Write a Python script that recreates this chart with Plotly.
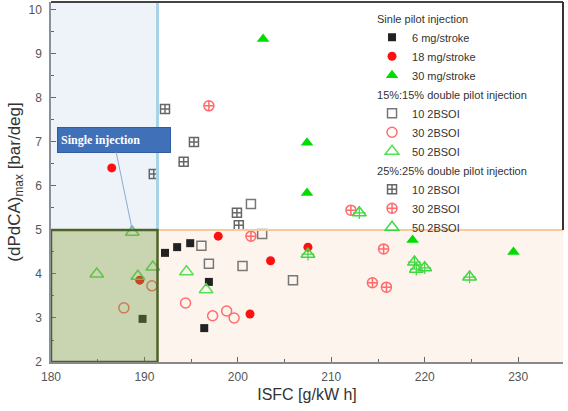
import plotly.graph_objects as go

# ---- data (ISFC [g/kW h], (dPdCA)max [bar/deg]) ----
sp6_x = [192.2, 193.5, 194.9, 196.9, 196.4, 189.8]
sp6_y = [4.48, 4.61, 4.70, 3.82, 2.77, 2.98]
sp18_x = [186.5, 189.5, 197.9, 203.5, 201.3, 207.5]
sp18_y = [6.41, 3.86, 4.86, 4.30, 3.09, 4.61]
sp30_x = [202.7, 207.4, 207.4, 218.7, 229.5]
sp30_y = [9.34, 6.98, 5.84, 4.77, 4.50]

d15_10_x = [196.1, 196.9, 200.5, 202.6, 201.4, 205.9]
d15_10_y = [4.64, 4.23, 4.18, 4.91, 5.59, 3.86]
d15_30_x = [187.8, 190.8, 194.4, 197.3, 198.8, 199.6]
d15_30_y = [3.23, 3.73, 3.34, 3.05, 3.16, 3.00]
d15_50_x = [184.9, 188.7, 189.3, 190.9, 194.5, 196.6]
d15_50_y = [4.00, 4.95, 3.95, 4.16, 4.05, 3.64]

d25_10_x = [192.2, 195.3, 194.2, 191.0, 199.9, 200.1]
d25_10_y = [7.75, 7.00, 6.55, 6.27, 5.39, 5.11]
d25_30_x = [196.9, 201.4, 212.1, 215.6, 214.4, 215.9]
d25_30_y = [7.82, 4.86, 5.45, 4.57, 3.80, 3.70]
d25_50_x = [213.0, 207.5, 218.9, 219.1, 220.0, 224.8]
d25_50_y = [5.39, 4.45, 4.27, 4.11, 4.14, 3.93]

x_range = [180, 234.8]
y_range = [2, 10.18]
x_split = 191.4
y_split = 5.0

fig = go.Figure()

def add(x, y, name, symbol, color, size, group, gtitle=None, lw=1.5, show=True):
    kw = {}
    if gtitle:
        kw["legendgrouptitle"] = dict(text=gtitle, font=dict(size=11, color="#333"))
    fig.add_trace(go.Scatter(
        x=x, y=y, mode="markers", name=name, legendgroup=group, showlegend=show,
        marker=dict(symbol=symbol, color=color, size=size,
                    line=dict(color=color, width=lw)), **kw))

add(sp6_x, sp6_y, "6 mg/stroke", "square", "#222222", 8, "g1", "Sinle pilot injection", lw=0)
add(sp18_x, sp18_y, "18 mg/stroke", "circle", "#ff1010", 9, "g1", lw=0)
add(sp30_x, sp30_y, "30 mg/stroke", "triangle-up", "#00dd00", 11, "g1", lw=0)

add(d15_10_x, d15_10_y, "10 2BSOI", "square-open", "#777777", 9, "g2", "15%:15% double pilot injection")
add(d15_30_x, d15_30_y, "30 2BSOI", "circle-open", "#ff6d6d", 10, "g2")
add(d15_50_x, d15_50_y, "50 2BSOI", "triangle-up-open", "#55e055", 12, "g2")

add(d25_10_x, d25_10_y, "10 2BSOI", "square-cross-open", "#666666", 9, "g3", "25%:25% double pilot injection")
add(d25_30_x, d25_30_y, "30 2BSOI", "circle-cross-open", "#ff6a6a", 10, "g3")
add(d25_50_x, d25_50_y, "50 2BSOI", "triangle-up-open", "#3fd83f", 12, "g3")
add(d25_50_x, d25_50_y, "50 2BSOI", "cross-thin-open", "#3fd83f", 9, "g3", lw=1.2, show=False)

shapes = [
    # blue region (upper left)
    dict(type="rect", xref="x", yref="y", x0=x_range[0], x1=x_split, y0=y_split, y1=y_range[1],
         fillcolor="#eef3f9", line=dict(width=0), layer="below"),
    dict(type="line", xref="x", yref="y", x0=x_split, x1=x_split, y0=y_split, y1=y_range[1],
         line=dict(color="#a8d3e6", width=3), layer="above"),
    # orange region (lower right)
    dict(type="rect", xref="x", yref="y", x0=x_split, x1=x_range[1], y0=y_range[0], y1=y_split,
         fillcolor="#fdf4ee", line=dict(width=0), layer="below"),
    dict(type="line", xref="x", yref="y", x0=x_split, x1=x_range[1], y0=y_split, y1=y_split,
         line=dict(color="#f7c99c", width=2), layer="above"),
    # frame: top and right (right only above the orange region)
    dict(type="line", xref="paper", yref="paper", x0=0, x1=1, y0=1, y1=1,
         line=dict(color="#444", width=2), layer="above"),
    dict(type="line", xref="paper", yref="y", x0=1, x1=1, y0=y_split, y1=y_range[1],
         line=dict(color="#333", width=2), layer="above"),
    # green region (lower left)
    dict(type="rect", xref="x", yref="y", x0=x_range[0], x1=x_split, y0=y_range[0], y1=y_split,
         fillcolor="rgba(119,147,60,0.40)", line=dict(color="#4f6228", width=2.5), layer="above"),
]

fig.update_layout(
    width=568, height=411,
    margin=dict(l=51, r=5, t=2, b=49),
    paper_bgcolor="white", plot_bgcolor="white",
    font=dict(family="Arial, Liberation Sans, sans-serif", color="#444"),
    shapes=shapes,
    legend=dict(x=0.627, y=0.995, xanchor="left", yanchor="top",
                bgcolor="rgba(0,0,0,0)", font=dict(size=11, color="#333"),
                tracegroupgap=0, traceorder="grouped", itemwidth=30),
    annotations=[dict(
        x=188.7, y=5.0, xref="x", yref="y", ax=186.7, ay=7.05, axref="x", ayref="y",
        text="<b>Single injection</b>", showarrow=True, arrowhead=2, arrowsize=0.8,
        arrowwidth=1, arrowcolor="#8fa9cf",
        font=dict(family="Liberation Serif, Times New Roman, serif", size=12, color="white"),
        bgcolor="#3f70b8", bordercolor="#2f5c9e", borderwidth=1, borderpad=3,
        width=106, height=18, align="left")],
)

fig.update_xaxes(range=x_range, dtick=10, tick0=180, ticks="inside", ticklen=5,
                 tickcolor="#666", showgrid=False, zeroline=False,
                 showline=True, linecolor="#888", linewidth=1.5,
                 minor=dict(ticks="inside", dtick=5, ticklen=3, tickcolor="#666"),
                 tickfont=dict(size=12, color="#555"), ticklabelstandoff=3,
                 title=dict(text="ISFC [g/kW h]", font=dict(size=16, color="#333"), standoff=6))
fig.update_yaxes(range=y_range, dtick=1, tick0=2, ticks="inside", ticklen=5,
                 tickcolor="#666", showgrid=False, zeroline=False,
                 showline=True, linecolor="#8a8f9a", linewidth=1.5,
                 minor=dict(ticks="inside", dtick=0.5, ticklen=3, tickcolor="#666"),
                 tickfont=dict(size=12, color="#555"), ticklabelstandoff=5,
                 title=dict(text="(dPdCA)<sub>max</sub> [bar/deg]", font=dict(size=17, color="#333"), standoff=4))

fig.write_html("out.html")
